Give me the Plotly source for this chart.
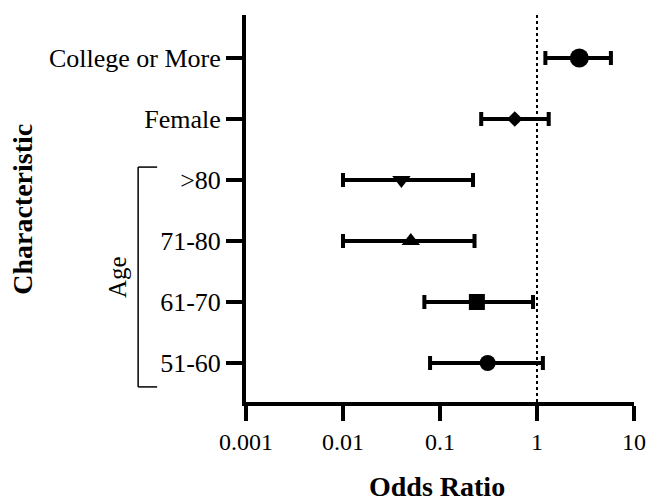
import plotly.graph_objects as go

categories = ["51-60", "61-70", "71-80", ">80", "Female", "College or More"]
odds_ratio = [0.31, 0.24, 0.050, 0.040, 0.59, 2.73]
ci_lower = [0.079, 0.069, 0.010, 0.010, 0.266, 1.22]
ci_upper = [1.15, 0.91, 0.227, 0.219, 1.32, 5.78]
symbols = ["circle", "square", "triangle-up", "triangle-down", "diamond", "circle"]
marker_sizes = [16, 16, 16, 16, 12, 19]
x_ticks = [0.001, 0.01, 0.1, 1, 10]
x_tick_labels = ["0.001", "0.01", "0.1", "1", "10"]

FONT = "Liberation Serif"
y_pos = list(range(len(categories)))
y_range = [-0.639, 5.705]

fig = go.Figure()

# reference line at OR = 1
fig.add_trace(go.Scatter(
    x=[1, 1], y=y_range, mode="lines",
    line=dict(color="black", width=2, dash="dot"),
    hoverinfo="skip", showlegend=False,
))

fig.add_trace(go.Scatter(
    x=odds_ratio, y=y_pos, mode="markers",
    marker=dict(symbol=symbols, size=marker_sizes, color="black", opacity=1,
                line=dict(width=0)),
    error_x=dict(
        type="data", symmetric=False,
        array=[u - o for u, o in zip(ci_upper, odds_ratio)],
        arrayminus=[o - l for o, l in zip(odds_ratio, ci_lower)],
        color="black", thickness=4, width=7,
    ),
    showlegend=False,
))

fig.update_xaxes(
    type="log", range=[-3, 1], automargin=False,
    tickvals=x_ticks, ticktext=x_tick_labels,
    ticks="outside", ticklen=15, tickwidth=4, tickcolor="black",
    showline=True, linewidth=4, linecolor="black",
    showgrid=False, zeroline=False,
    tickfont=dict(family=FONT, size=24, color="black"),
)
fig.update_yaxes(
    range=y_range, automargin=False, tickvals=y_pos, ticktext=categories,
    ticks="outside", ticklen=16, tickwidth=4, tickcolor="black",
    showline=True, linewidth=4, linecolor="black",
    showgrid=False, zeroline=False,
    tickfont=dict(family=FONT, size=26, color="black"),
)

# Age bracket
bx0, bx1 = -0.278, -0.229
by0, by1 = 0.039, 0.607
for x0, y0, x1, y1 in [(bx0, by0, bx0, by1), (bx0, by1, bx1, by1), (bx0, by0, bx1, by0)]:
    fig.add_shape(type="line", xref="paper", yref="paper", x0=x0, y0=y0, x1=x1, y1=y1,
                  line=dict(color="black", width=1.5))

fig.add_annotation(text="Age", xref="paper", yref="paper", x=-0.330, y=0.323,
                   xanchor="center", yanchor="middle",
                   textangle=-90, showarrow=False,
                   font=dict(family=FONT, size=25, color="black"))
fig.add_annotation(text="<b>Characteristic</b>", xref="paper", yref="paper", x=-0.575, y=0.499,
                   xanchor="center", yanchor="middle",
                   textangle=-90, showarrow=False,
                   font=dict(family=FONT, size=28, color="black"))
fig.add_annotation(text="<b>Odds Ratio</b>", xref="paper", yref="paper", x=0.492, y=-0.2196,
                   xanchor="center", yanchor="middle",
                   showarrow=False,
                   font=dict(family=FONT, size=28, color="black"))

fig.update_layout(
    width=648, height=501,
    margin=dict(l=246, r=14, t=15, b=99),
    plot_bgcolor="white", paper_bgcolor="white",
    font=dict(family=FONT, color="black"),
)

fig.write_html(
    "out.html",
    config={"displayModeBar": False},
    post_script="document.body.style.margin='0';document.body.style.overflow='hidden';",
)
